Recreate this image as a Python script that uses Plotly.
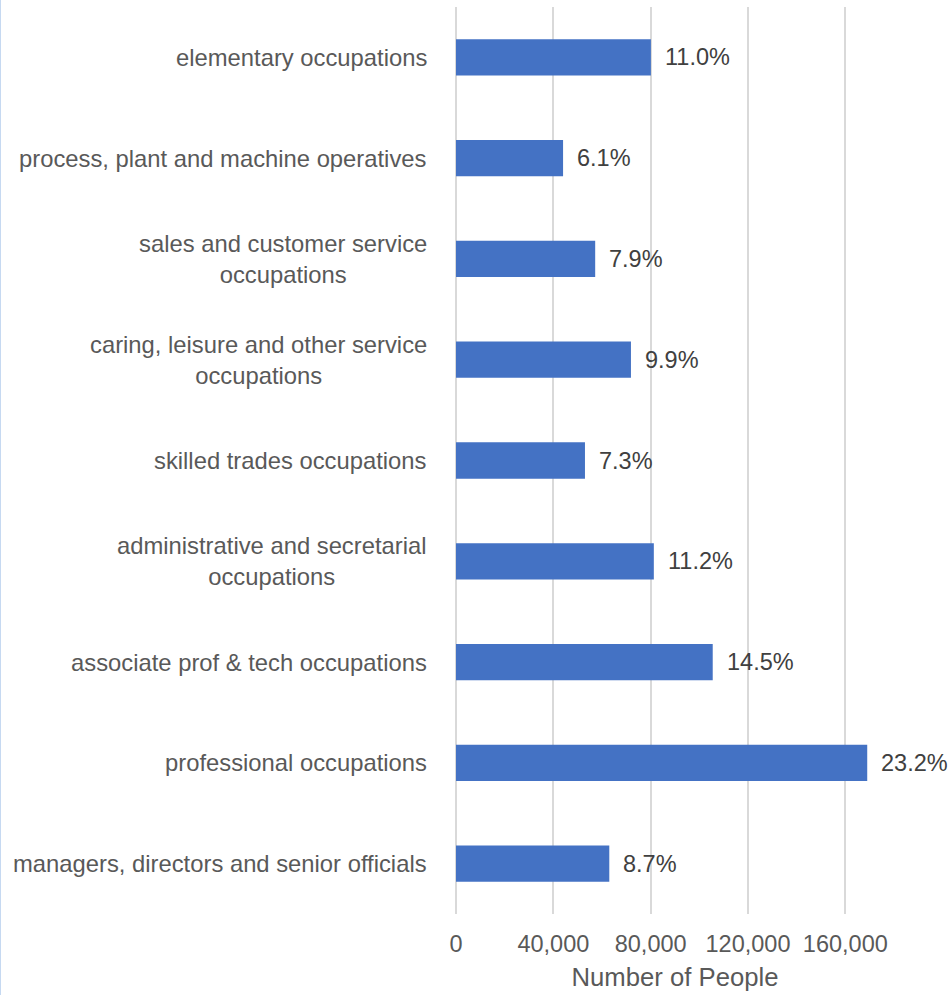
import plotly.graph_objects as go

# Occupation groups, bottom to top
categories = [
    "managers, directors and senior officials",
    "professional occupations",
    "associate prof & tech occupations",
    "administrative and secretarial<br>occupations",
    "skilled trades occupations",
    "caring, leisure and other service<br>occupations",
    "sales and customer service<br>occupations",
    "process, plant and machine operatives",
    "elementary occupations",
]
people = [63000, 169000, 105500, 81300, 53000, 71900, 57200, 44000, 80100]
shares = ["8.7%", "23.2%", "14.5%", "11.2%", "7.3%", "9.9%", "7.9%", "6.1%", "11.0%"]
x_ticks = [0, 40000, 80000, 120000, 160000]

FONT = "Liberation Sans, Arial, sans-serif"
GREY = "#595959"

fig = go.Figure(
    go.Bar(
        x=people,
        y=categories,
        orientation="h",
        marker=dict(color="#4472C4", line=dict(width=0)),
        hoverinfo="x+y",
    )
)

annotations = []
# category names on the left, centred within their own block
for cat in categories:
    annotations.append(dict(
        x=0, xref="paper", y=cat, yref="y",
        text=cat, showarrow=False, xanchor="right", yanchor="middle",
        align="center", xshift=-27,
        font=dict(family=FONT, size=23.8, color=GREY),
    ))
# percentage share beside each bar
for cat, val, pct in zip(categories, people, shares):
    annotations.append(dict(
        x=val, xref="x", y=cat, yref="y",
        text=pct, showarrow=False, xanchor="left", yanchor="middle",
        xshift=12,
        font=dict(family=FONT, size=23.5, color="#404040"),
    ))

plot_w = 948 - 456 - 54
fig.update_layout(
    width=948,
    height=995,
    margin=dict(l=456, r=54, t=7, b=81),
    paper_bgcolor="white",
    plot_bgcolor="white",
    showlegend=False,
    bargap=0.64,
    font=dict(family=FONT, color=GREY),
    annotations=annotations,
    shapes=[dict(
        type="line", xref="paper", yref="paper",
        x0=-456 / plot_w, x1=-456 / plot_w, y0=-81 / 907, y1=1 + 7 / 907,
        line=dict(color="#C6D9F1", width=2),
    )],
    xaxis=dict(
        range=[0, 180000],
        tickvals=x_ticks,
        ticktext=[f"{v:,}" for v in x_ticks],
        tickfont=dict(family=FONT, size=23.5, color=GREY),
        ticklabelstandoff=13,
        showgrid=True,
        gridcolor="#D9D9D9",
        gridwidth=1.6,
        zeroline=True,
        zerolinecolor="#D9D9D9",
        zerolinewidth=1.6,
        showline=False,
        ticks="",
        title=dict(text="Number of People", standoff=12,
                   font=dict(family=FONT, size=25.7, color=GREY)),
        fixedrange=True,
    ),
    yaxis=dict(
        categoryorder="array",
        categoryarray=categories,
        showticklabels=False,
        showgrid=False,
        zeroline=False,
        showline=False,
        ticks="",
        fixedrange=True,
    ),
)

fig.write_html("out.html")
